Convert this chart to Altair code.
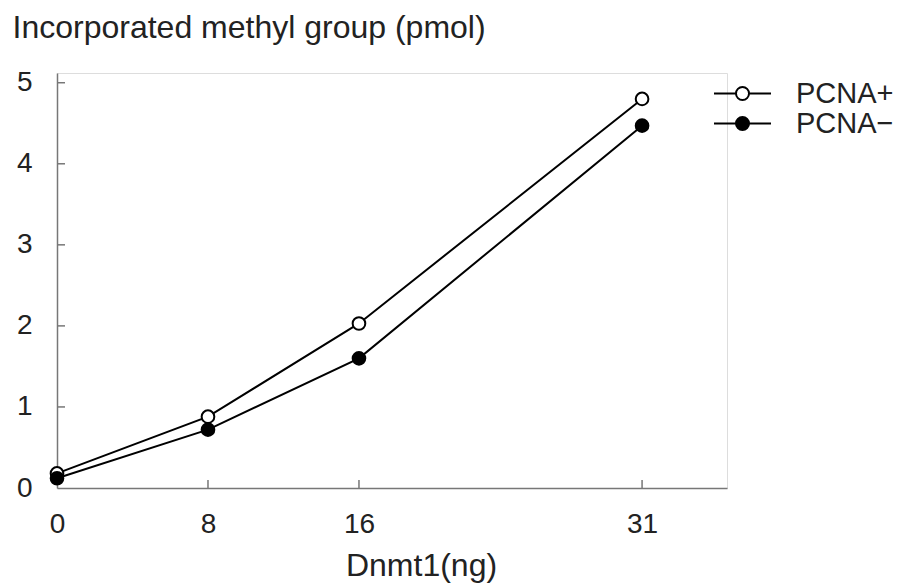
import altair as alt
import pandas as pd

# Dnmt1 amount (ng) and methyl incorporation (pmol) with / without PCNA
dose = [0, 8, 16, 31]
pcna_plus = [0.18, 0.88, 2.03, 4.80]
pcna_minus = [0.12, 0.72, 1.60, 4.47]
series_names = ["PCNA+", "PCNA−"]

x_ticks = [0, 8, 16, 31]
y_ticks = [0, 1, 2, 3, 4, 5]

rows = []
for name, vals in zip(series_names, [pcna_plus, pcna_minus]):
    for d, v in zip(dose, vals):
        rows.append({"dose": d, "value": v, "series": name})
df = pd.DataFrame(rows)

yt_df = pd.DataFrame({"value": y_ticks[1:]})
xt_df = pd.DataFrame({"dose": x_ticks[1:]})

W, H = 670, 415
FONT = "Liberation Sans"
TXT = "#222222"
AX = "#777777"

xs = alt.Scale(domain=[0, 35.5], nice=False, zero=False)
ys = alt.Scale(domain=[0, 5.12], nice=False)

x_axis = alt.Axis(
    values=x_ticks, format="d", title="Dnmt1(ng)", grid=False, ticks=False,
    tickSize=0, labelPadding=22, labelFlush=False, labelFont=FONT,
    labelFontSize=28, labelColor=TXT, domainColor=AX, domainWidth=1.5,
    titleFont=FONT, titleFontSize=32, titleFontWeight="normal", titleColor=TXT,
    titleX=364, titleY=87, titleAlign="center", titleBaseline="alphabetic",
)
y_axis = alt.Axis(
    values=y_ticks, format="d", title="Incorporated methyl group (pmol)",
    grid=False, ticks=False, tickSize=0, labelPadding=25, labelFlush=False,
    labelFont=FONT, labelFontSize=28, labelColor=TXT, domainColor=AX,
    domainWidth=1.5,
    titleFont=FONT, titleFontSize=32, titleFontWeight="normal", titleColor=TXT,
    titleAngle=0, titleAlign="left", titleBaseline="alphabetic",
    titleX=-45, titleY=-36,
)

# legend glyph: short line with a circle in the middle
legend_path = ("M-4.07,0L-0.93,0M0.93,0L4.07,0"
               "M0.93,0A0.93,0.93,0,1,1,-0.93,0A0.93,0.93,0,1,1,0.93,0Z")

lines = alt.Chart(df).mark_line(color="black", strokeWidth=2).encode(
    x=alt.X("dose:Q", scale=xs, axis=x_axis),
    y=alt.Y("value:Q", scale=ys, axis=y_axis),
    detail="series:N",
)

points = alt.Chart(df).mark_circle(
    size=160, stroke="black", strokeWidth=2, opacity=1
).encode(
    x=alt.X("dose:Q", scale=xs),
    y=alt.Y("value:Q", scale=ys),
    fill=alt.Fill(
        "series:N",
        scale=alt.Scale(domain=series_names, range=["white", "black"]),
        legend=alt.Legend(
            title=None, orient="none", legendX=671, legendY=6,
            symbolType=legend_path, symbolSize=196,
            symbolStrokeColor="black", symbolStrokeWidth=2,
            labelFont=FONT, labelFontSize=29, labelColor=TXT,
            labelOffset=39, rowPadding=-5, padding=0,
        ),
    ),
)

# inward-pointing tick marks
y_tick_marks = alt.Chart(yt_df).mark_rule(color=AX, strokeWidth=1.5).encode(
    y=alt.Y("value:Q", scale=ys),
    x=alt.value(0), x2=alt.value(8),
)
x_tick_marks = alt.Chart(xt_df).mark_rule(color=AX, strokeWidth=1.5).encode(
    x=alt.X("dose:Q", scale=xs),
    y=alt.value(H), y2=alt.value(H - 8),
)

chart = alt.layer(lines, y_tick_marks, x_tick_marks, points).properties(
    width=W, height=H,
    autosize=alt.AutoSizeParams(type="none"),
    padding={"left": 57, "top": 73, "right": 175, "bottom": 95},
).configure_view(stroke=None).configure(background="white")

chart.save("out.html", embed_options={"renderer": "svg", "actions": False})
